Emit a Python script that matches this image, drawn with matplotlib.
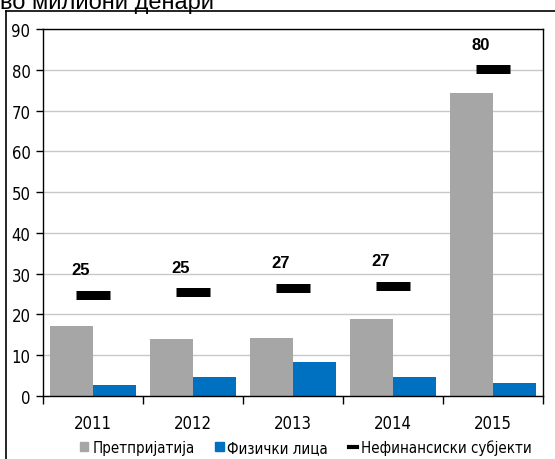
import matplotlib
matplotlib.use("Agg")
import matplotlib.pyplot as plt
from matplotlib.lines import Line2D
from matplotlib.patches import Patch
from matplotlib.font_manager import FontProperties
import numpy as np

years = ["2011", "2012", "2013", "2014", "2015"]
enterprises = [17.2, 14.0, 14.2, 18.8, 74.3]
households = [2.6, 4.7, 8.4, 4.7, 3.1]
nonfinancial = [24.8, 25.4, 26.6, 27.0, 80.1]
nonfin_labels = ["25", "25", "27", "27", "80"]
series_names = ["Претпријатија", "Физички лица", "Нефинансиски субјекти"]
title = "во милиони денари"

W, H = 555, 460
fig = plt.figure(figsize=(W / 100, H / 100), dpi=100)
ax = fig.add_axes([43 / W, 1 - 397 / H, 500 / W, 367 / H])

narrow = FontProperties(family="DejaVu Sans", stretch="condensed", size=12)
legfont = FontProperties(family="DejaVu Sans", stretch="condensed", size=10.8)
x = np.arange(len(years))
bw = 0.43
gray = "#a6a6a6"
blue = "#0070c0"
ax.bar(x - bw / 2, enterprises, bw, color=gray, zorder=2)
ax.bar(x + bw / 2, households, bw, color=blue, zorder=2)
px = 0.72
ax.plot(x, nonfinancial, linestyle="none", marker="_", color="black",
        markersize=34 * px, markeredgewidth=9 * px, zorder=3)
for xi, v, lab in zip(x, nonfinancial, nonfin_labels):
    ax.annotate(lab, (xi, v), xytext=(-12 * px, 25 * px), textcoords="offset points",
                ha="center", va="center", fontsize=12, fontweight="bold",
                family="Liberation Sans")

ax.set_xlim(-0.5, 4.5)
ax.set_ylim(0, 90)
ax.set_yticks(np.arange(0, 91, 10))
ax.yaxis.grid(True, color="#c8c8c8", linewidth=1, zorder=0)
ax.set_axisbelow(True)
ax.set_xticks(np.arange(-0.5, 4.6, 1))
ax.set_xticklabels([])
ax.set_xticks(x, minor=True)
ax.set_xticklabels(years, minor=True, fontproperties=narrow)
ax.tick_params(axis="x", which="major", length=6, direction="out", width=1)
ax.tick_params(axis="x", which="minor", length=0, pad=13)
ax.tick_params(axis="y", length=5, direction="out", width=1, pad=4)
for t in ax.get_yticklabels():
    t.set_fontproperties(narrow)
for s in ax.spines.values():
    s.set_color("black")
    s.set_linewidth(1)

# outer frame
fig.add_artist(Line2D([6 / W, 1.0], [1 - 11.5 / H, 1 - 11.5 / H], color="black", lw=1.2,
                      transform=fig.transFigure))
fig.add_artist(Line2D([6 / W, 6 / W], [1 - 11.5 / H, 0], color="black", lw=1.2,
                      transform=fig.transFigure))

fig.text(0 / W, 1 - 9 / H, title, ha="left", va="baseline", fontsize=17,
         family="Liberation Sans")

handles = [Patch(color=gray), Patch(color=blue),
           Line2D([0], [0], color="black", lw=3)]
leg = fig.legend(handles, series_names, loc="center", bbox_to_anchor=(306 / W, 1 - 448 / H),
                 ncol=3, frameon=False, handlelength=0.55, handleheight=0.55,
                 handletextpad=0.25, columnspacing=1.4, borderpad=0, borderaxespad=0,
                 prop=legfont)

fig.savefig("out.png", dpi=100)
